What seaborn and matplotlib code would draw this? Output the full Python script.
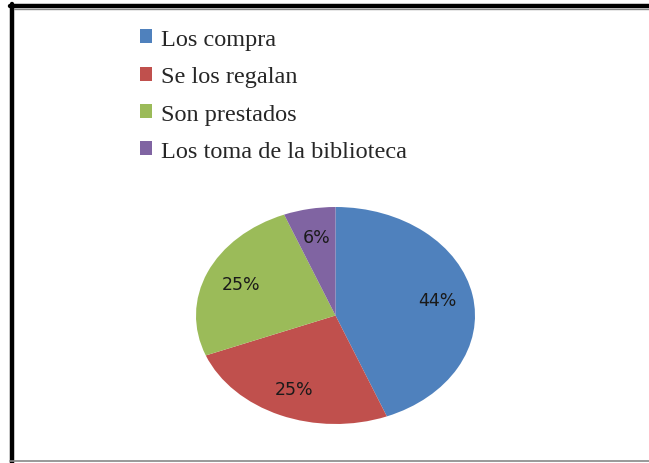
import matplotlib
matplotlib.use("Agg")
import matplotlib.pyplot as plt
import seaborn as sns
from matplotlib.patches import Patch
from matplotlib.lines import Line2D

categories = ["Los compra", "Se los regalan", "Son prestados", "Los toma de la biblioteca"]
values = [44, 25, 25, 6]
colors = ["#4F81BD", "#C0504D", "#9BBB59", "#8064A2"]

sns.set_theme(style="white")
plt.rcParams['font.family'] = ['DejaVu Sans']

fig = plt.figure(figsize=(6.49, 4.64), dpi=100)
fig.patch.set_facecolor("white")

ax = fig.add_axes([196/649, 1-425/464, 279/649, 217/464])
wedges, texts, autotexts = ax.pie(
    values, colors=colors, startangle=90, counterclock=False,
    autopct=lambda p: f"{p:.0f}%", pctdistance=0.74,
    wedgeprops=dict(linewidth=0),
    textprops=dict(fontsize=12.5, color="#1a1a1a", family="DejaVu Sans"),
)
ax.set_aspect('auto')
ax.set_xlim(-1, 1)
ax.set_ylim(-1, 1)
ax.axis('off')

handles = [Patch(facecolor=c, edgecolor='none') for c in colors]
leg = fig.legend(handles, categories, loc='upper left',
                 bbox_to_anchor=(140/649, 1-30/464), frameon=False,
                 prop=dict(family='Liberation Serif', size=17.5),
                 handlelength=0.5, handleheight=0.5, handletextpad=0.35,
                 labelspacing=0.67, borderpad=0, borderaxespad=0)

# frame lines
fig.add_artist(Line2D([10/649, 1], [1-7/464, 1-7/464], color='black', lw=3.2, transform=fig.transFigure))
fig.add_artist(Line2D([12/649, 12/649], [0, 1-5/464], color='black', lw=3.2, transform=fig.transFigure))
fig.add_artist(Line2D([14/649, 1], [1-10/464, 1-10/464], color='#888888', lw=1, transform=fig.transFigure))
fig.add_artist(Line2D([10/649, 1], [1-461.5/464, 1-461.5/464], color='#888888', lw=1.2, transform=fig.transFigure))

fig.savefig("out.png", dpi=100, facecolor="white")
